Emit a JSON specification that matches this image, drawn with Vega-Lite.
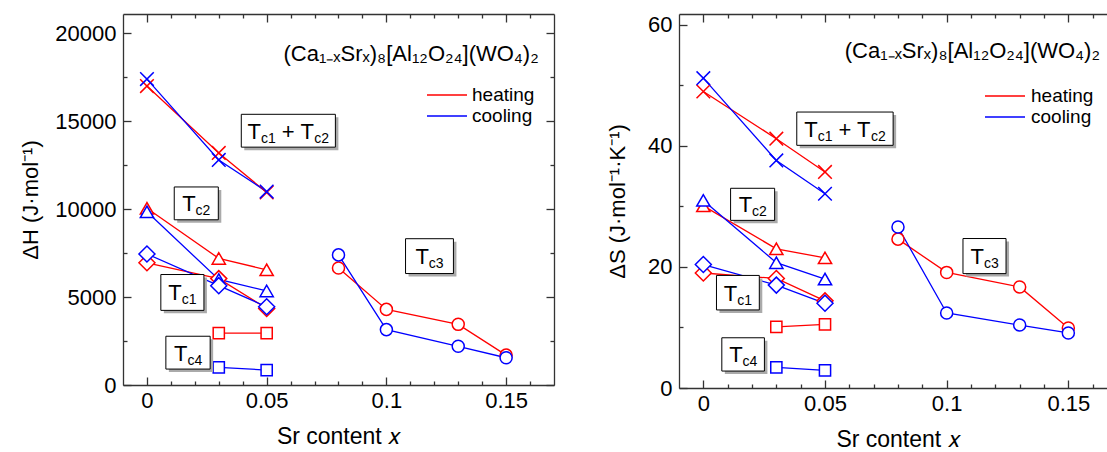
{
  "$schema": "https://vega.github.io/schema/vega-lite/v6.json",
  "background": "white",
  "padding": {"left": 19, "top": 13, "right": 0, "bottom": 0},
  "config": {
    "font": "Liberation Sans",
    "view": {"stroke": null},
    "axis": {
      "labelFont": "Liberation Sans", "titleFont": "Liberation Sans",
      "labelFontSize": 22, "titleFontSize": 22, "titleFontWeight": "normal",
      "labelColor": "black", "titleColor": "black",
      "domainColor": "#333333", "domainWidth": 1.3, "tickColor": "#333333", "tickWidth": 1.3,
      "grid": false, "labelFlush": false, "labelOverlap": false
    },
    "legend": {"labelFont": "Liberation Sans", "labelFontSize": 19, "labelColor": "black"},
    "text": {"font": "Liberation Sans", "color": "black"}
  },
  "datasets": {
    "ptsH": [
      {"mode": "heating", "trans": "Tc1+Tc2", "x": 0, "v": 17000},
      {"mode": "heating", "trans": "Tc1+Tc2", "x": 0.03, "v": 13200},
      {"mode": "heating", "trans": "Tc1+Tc2", "x": 0.05, "v": 10950},
      {"mode": "heating", "trans": "Tc2", "x": 0, "v": 10050},
      {"mode": "heating", "trans": "Tc2", "x": 0.03, "v": 7200},
      {"mode": "heating", "trans": "Tc2", "x": 0.05, "v": 6550},
      {"mode": "heating", "trans": "Tc1", "x": 0, "v": 6950},
      {"mode": "heating", "trans": "Tc1", "x": 0.03, "v": 6050},
      {"mode": "heating", "trans": "Tc1", "x": 0.05, "v": 4350},
      {"mode": "heating", "trans": "Tc4", "x": 0.03, "v": 2950},
      {"mode": "heating", "trans": "Tc4", "x": 0.05, "v": 2950},
      {"mode": "heating", "trans": "Tc3", "x": 0.08, "v": 6650},
      {"mode": "heating", "trans": "Tc3", "x": 0.1, "v": 4300},
      {"mode": "heating", "trans": "Tc3", "x": 0.13, "v": 3450},
      {"mode": "heating", "trans": "Tc3", "x": 0.15, "v": 1700},
      {"mode": "cooling", "trans": "Tc1+Tc2", "x": 0, "v": 17400},
      {"mode": "cooling", "trans": "Tc1+Tc2", "x": 0.03, "v": 12800},
      {"mode": "cooling", "trans": "Tc1+Tc2", "x": 0.05, "v": 11000},
      {"mode": "cooling", "trans": "Tc2", "x": 0, "v": 9850},
      {"mode": "cooling", "trans": "Tc2", "x": 0.03, "v": 6000},
      {"mode": "cooling", "trans": "Tc2", "x": 0.05, "v": 5350},
      {"mode": "cooling", "trans": "Tc1", "x": 0, "v": 7450},
      {"mode": "cooling", "trans": "Tc1", "x": 0.03, "v": 5650},
      {"mode": "cooling", "trans": "Tc1", "x": 0.05, "v": 4450},
      {"mode": "cooling", "trans": "Tc4", "x": 0.03, "v": 1000},
      {"mode": "cooling", "trans": "Tc4", "x": 0.05, "v": 850},
      {"mode": "cooling", "trans": "Tc3", "x": 0.08, "v": 7400},
      {"mode": "cooling", "trans": "Tc3", "x": 0.1, "v": 3150},
      {"mode": "cooling", "trans": "Tc3", "x": 0.13, "v": 2200},
      {"mode": "cooling", "trans": "Tc3", "x": 0.15, "v": 1550}
    ],
    "ptsS": [
      {"mode": "heating", "trans": "Tc1+Tc2", "x": 0, "v": 49.0},
      {"mode": "heating", "trans": "Tc1+Tc2", "x": 0.03, "v": 41.2},
      {"mode": "heating", "trans": "Tc1+Tc2", "x": 0.05, "v": 35.7},
      {"mode": "heating", "trans": "Tc2", "x": 0, "v": 30.1},
      {"mode": "heating", "trans": "Tc2", "x": 0.03, "v": 23.0},
      {"mode": "heating", "trans": "Tc2", "x": 0.05, "v": 21.5},
      {"mode": "heating", "trans": "Tc1", "x": 0, "v": 19.0},
      {"mode": "heating", "trans": "Tc1", "x": 0.03, "v": 18.1},
      {"mode": "heating", "trans": "Tc1", "x": 0.05, "v": 14.4},
      {"mode": "heating", "trans": "Tc4", "x": 0.03, "v": 10.1},
      {"mode": "heating", "trans": "Tc4", "x": 0.05, "v": 10.5},
      {"mode": "heating", "trans": "Tc3", "x": 0.08, "v": 24.6},
      {"mode": "heating", "trans": "Tc3", "x": 0.1, "v": 19.1},
      {"mode": "heating", "trans": "Tc3", "x": 0.13, "v": 16.7},
      {"mode": "heating", "trans": "Tc3", "x": 0.15, "v": 9.9},
      {"mode": "cooling", "trans": "Tc1+Tc2", "x": 0, "v": 51.2},
      {"mode": "cooling", "trans": "Tc1+Tc2", "x": 0.03, "v": 37.6},
      {"mode": "cooling", "trans": "Tc1+Tc2", "x": 0.05, "v": 32.1},
      {"mode": "cooling", "trans": "Tc2", "x": 0, "v": 31.0},
      {"mode": "cooling", "trans": "Tc2", "x": 0.03, "v": 20.7},
      {"mode": "cooling", "trans": "Tc2", "x": 0.05, "v": 18.0},
      {"mode": "cooling", "trans": "Tc1", "x": 0, "v": 20.4},
      {"mode": "cooling", "trans": "Tc1", "x": 0.03, "v": 17.0},
      {"mode": "cooling", "trans": "Tc1", "x": 0.05, "v": 14.0},
      {"mode": "cooling", "trans": "Tc4", "x": 0.03, "v": 3.4},
      {"mode": "cooling", "trans": "Tc4", "x": 0.05, "v": 2.9},
      {"mode": "cooling", "trans": "Tc3", "x": 0.08, "v": 26.6},
      {"mode": "cooling", "trans": "Tc3", "x": 0.1, "v": 12.4},
      {"mode": "cooling", "trans": "Tc3", "x": 0.13, "v": 10.4},
      {"mode": "cooling", "trans": "Tc3", "x": 0.15, "v": 9.1}
    ],
    "boxH": [
      {"name": "Tc1+Tc2", "x1": 0.0394, "x2": 0.0787, "y1": 13527, "y2": 15395, "xc": 0.0590, "yc": 14461, "t1": "T", "s1": "c1", "t2": "+ T", "s2": "c2"},
      {"name": "Tc2", "x1": 0.0114, "x2": 0.0298, "y1": 9396, "y2": 11263, "xc": 0.0206, "yc": 10330, "t1": "T", "s1": "c2"},
      {"name": "Tc1", "x1": 0.0058, "x2": 0.0238, "y1": 4245, "y2": 6283, "xc": 0.0148, "yc": 5264, "t1": "T", "s1": "c1"},
      {"name": "Tc4", "x1": 0.0079, "x2": 0.0264, "y1": 906, "y2": 2773, "xc": 0.0172, "yc": 1840, "t1": "T", "s1": "c4"},
      {"name": "Tc3", "x1": 0.108, "x2": 0.128, "y1": 6339, "y2": 8320, "xc": 0.118, "yc": 7330, "t1": "T", "s1": "c3"}
    ],
    "boxS": [
      {"name": "Tc1+Tc2", "x1": 0.0384, "x2": 0.0780, "y1": 40.1, "y2": 45.6, "xc": 0.0582, "yc": 42.85, "t1": "T", "s1": "c1", "t2": "+ T", "s2": "c2"},
      {"name": "Tc2", "x1": 0.0112, "x2": 0.0293, "y1": 27.7, "y2": 33.0, "xc": 0.0203, "yc": 30.35, "t1": "T", "s1": "c2"},
      {"name": "Tc1", "x1": 0.0054, "x2": 0.0230, "y1": 12.9, "y2": 18.6, "xc": 0.0142, "yc": 15.75, "t1": "T", "s1": "c1"},
      {"name": "Tc4", "x1": 0.0076, "x2": 0.0251, "y1": 2.8, "y2": 8.3, "xc": 0.0164, "yc": 5.55, "t1": "T", "s1": "c4"},
      {"name": "Tc3", "x1": 0.1067, "x2": 0.1244, "y1": 18.9, "y2": 24.7, "xc": 0.1156, "yc": 21.8, "t1": "T", "s1": "c3"}
    ],
    "noteH": [{"text": "(Ca₁₋ₓSrₓ)₈[Al₁₂O₂₄](WO₄)₂", "x": 0.1636, "y": 18452}],
    "noteS": [{"text": "(Ca₁₋ₓSrₓ)₈[Al₁₂O₂₄](WO₄)₂", "x": 0.163, "y": 54.5}]
  },
  "bounds": "flush",
  "spacing": 125,
  "resolve": {"legend": {"stroke": "independent"}},
  "hconcat": [
    {
      "width": 431, "height": 371,
      "resolve": {"axis": {"x": "independent", "y": "independent"}},
      "layer": [
        {
          "data": {"name": "ptsH"},
          "mark": {"type": "line", "strokeWidth": 1.3},
          "encoding": {
            "x": {"field": "x", "type": "quantitative", "scale": {"domain": [-0.01, 0.17], "nice": false, "zero": false},
              "axis": {"orient": "bottom", "values": [0, 0.01, 0.02, 0.03, 0.04, 0.05, 0.06, 0.07, 0.08, 0.09, 0.1, 0.11, 0.12, 0.13, 0.14, 0.15, 0.16],
                "format": "~g", "labelExpr": "round(datum.value*100) % 5 == 0 ? datum.label : ''",
                "tickSize": {"condition": {"test": "round(datum.value*100) % 5 == 0", "value": -8}, "value": -4},
                "labelPadding": 13, "title": "Sr content 𝑥", "titleFontSize": 23, "titlePadding": 10}},
            "y": {"field": "v", "type": "quantitative", "scale": {"domain": [0, 21100], "nice": false, "zero": false},
              "axis": {"orient": "left", "values": [0, 2500, 5000, 7500, 10000, 12500, 15000, 17500, 20000],
                "format": "d", "labelExpr": "datum.value % 5000 == 0 ? datum.label : ''",
                "tickSize": {"condition": {"test": "datum.value % 5000 == 0", "value": -8}, "value": -4},
                "labelPadding": 15, "title": "ΔH (J·mol⁻¹)", "titlePadding": 12}},
            "stroke": {"field": "mode", "type": "nominal", "scale": {"domain": ["heating", "cooling"], "range": ["#ff0000", "#0000ff"]},
              "legend": {"orient": "none", "legendX": 313, "legendY": 70, "direction": "vertical", "title": null,
                "symbolType": "M-2,0L2,0", "symbolSize": 400, "symbolStrokeWidth": 1.3, "symbolFillColor": "transparent",
                "labelOffset": 14, "padding": 0, "rowPadding": 0}},
            "detail": {"field": "trans"}
          }
        },
        {
          "data": {"name": "ptsH"},
          "mark": {"type": "point", "filled": true, "fill": "white", "strokeWidth": 1.5, "opacity": 1},
          "encoding": {
            "x": {"field": "x", "type": "quantitative",
              "axis": {"orient": "top", "values": [0, 0.01, 0.02, 0.03, 0.04, 0.05, 0.06, 0.07, 0.08, 0.09, 0.1, 0.11, 0.12, 0.13, 0.14, 0.15, 0.16],
                "labels": false, "title": null,
                "tickSize": {"condition": {"test": "round(datum.value*100) % 5 == 0", "value": -8}, "value": -4}}},
            "y": {"field": "v", "type": "quantitative",
              "axis": {"orient": "right", "values": [0, 2500, 5000, 7500, 10000, 12500, 15000, 17500, 20000],
                "labels": false, "title": null,
                "tickSize": {"condition": {"test": "datum.value % 5000 == 0", "value": -8}, "value": -4}}},
            "stroke": {"field": "mode", "type": "nominal", "legend": null},
            "shape": {"field": "trans", "type": "nominal", "legend": null,
              "scale": {"domain": ["Tc1+Tc2", "Tc2", "Tc1", "Tc4", "Tc3"], "range": ["M-1,-1L1,1M-1,1L1,-1", "triangle-up", "diamond", "square", "circle"]}},
            "size": {"field": "trans", "type": "nominal", "legend": null,
              "scale": {"type": "ordinal", "domain": ["Tc1+Tc2", "Tc2", "Tc1", "Tc4", "Tc3"], "range": [185, 175, 256, 125, 145]}}
          }
        },
        {
          "data": {"name": "boxH"},
          "mark": {"type": "rect", "fill": "#aaaaaa", "xOffset": 3, "x2Offset": 3, "yOffset": 3, "y2Offset": 3},
          "encoding": {"x": {"field": "x1", "type": "quantitative", "axis": null}, "x2": {"field": "x2"},
            "y": {"field": "y1", "type": "quantitative", "axis": null}, "y2": {"field": "y2"}}
        },
        {
          "data": {"name": "boxH"},
          "mark": {"type": "rect", "fill": "white", "stroke": "black", "strokeWidth": 1},
          "encoding": {"x": {"field": "x1", "type": "quantitative", "axis": null}, "x2": {"field": "x2"},
            "y": {"field": "y1", "type": "quantitative", "axis": null}, "y2": {"field": "y2"}}
        },
        {
          "data": {"name": "boxH"}, "transform": [{"filter": "!datum.t2"}],
          "mark": {"type": "text", "align": "left", "baseline": "alphabetic", "dx": -14.1, "dy": 8, "fontSize": 22},
          "encoding": {"x": {"field": "xc", "type": "quantitative", "axis": null}, "y": {"field": "yc", "type": "quantitative", "axis": null}, "text": {"field": "t1"}}
        },
        {
          "data": {"name": "boxH"}, "transform": [{"filter": "!datum.t2"}],
          "mark": {"type": "text", "align": "left", "baseline": "alphabetic", "dx": -0.7, "dy": 12, "fontSize": 14},
          "encoding": {"x": {"field": "xc", "type": "quantitative", "axis": null}, "y": {"field": "yc", "type": "quantitative", "axis": null}, "text": {"field": "s1"}}
        },
        {
          "data": {"name": "boxH"}, "transform": [{"filter": "datum.t2"}],
          "mark": {"type": "text", "align": "left", "baseline": "alphabetic", "dx": -40.7, "dy": 8, "fontSize": 22},
          "encoding": {"x": {"field": "xc", "type": "quantitative", "axis": null}, "y": {"field": "yc", "type": "quantitative", "axis": null}, "text": {"field": "t1"}}
        },
        {
          "data": {"name": "boxH"}, "transform": [{"filter": "datum.t2"}],
          "mark": {"type": "text", "align": "left", "baseline": "alphabetic", "dx": -27.3, "dy": 12, "fontSize": 14},
          "encoding": {"x": {"field": "xc", "type": "quantitative", "axis": null}, "y": {"field": "yc", "type": "quantitative", "axis": null}, "text": {"field": "s1"}}
        },
        {
          "data": {"name": "boxH"}, "transform": [{"filter": "datum.t2"}],
          "mark": {"type": "text", "align": "left", "baseline": "alphabetic", "dx": -6.4, "dy": 8, "fontSize": 22},
          "encoding": {"x": {"field": "xc", "type": "quantitative", "axis": null}, "y": {"field": "yc", "type": "quantitative", "axis": null}, "text": {"field": "t2"}}
        },
        {
          "data": {"name": "boxH"}, "transform": [{"filter": "datum.t2"}],
          "mark": {"type": "text", "align": "left", "baseline": "alphabetic", "dx": 26, "dy": 12, "fontSize": 14},
          "encoding": {"x": {"field": "xc", "type": "quantitative", "axis": null}, "y": {"field": "yc", "type": "quantitative", "axis": null}, "text": {"field": "s2"}}
        },
        {
          "data": {"name": "noteH"},
          "mark": {"type": "text", "align": "right", "baseline": "alphabetic", "fontSize": 22},
          "encoding": {"x": {"field": "x", "type": "quantitative", "axis": null}, "y": {"field": "y", "type": "quantitative", "axis": null}, "text": {"field": "text"}}
        }
      ]
    },
    {
      "width": 438, "height": 374,
      "resolve": {"axis": {"x": "independent", "y": "independent"}},
      "layer": [
        {
          "data": {"name": "ptsS"},
          "mark": {"type": "line", "strokeWidth": 1.3},
          "encoding": {
            "x": {"field": "x", "type": "quantitative", "scale": {"domain": [-0.01, 0.17], "nice": false, "zero": false},
              "axis": {"orient": "bottom", "values": [0, 0.01, 0.02, 0.03, 0.04, 0.05, 0.06, 0.07, 0.08, 0.09, 0.1, 0.11, 0.12, 0.13, 0.14, 0.15, 0.16],
                "format": "~g", "labelExpr": "round(datum.value*100) % 5 == 0 ? datum.label : ''",
                "tickSize": {"condition": {"test": "round(datum.value*100) % 5 == 0", "value": -8}, "value": -4},
                "labelPadding": 13, "title": "Sr content 𝑥", "titleFontSize": 23, "titlePadding": 10}},
            "y": {"field": "v", "type": "quantitative", "scale": {"domain": [0, 61.8], "nice": false, "zero": false},
              "axis": {"orient": "left", "values": [0, 10, 20, 30, 40, 50, 60],
                "format": "d", "labelExpr": "datum.value % 20 == 0 ? datum.label : ''",
                "tickSize": {"condition": {"test": "datum.value % 20 == 0", "value": -8}, "value": -4},
                "labelPadding": 15, "title": "ΔS (J·mol⁻¹·K⁻¹)", "titlePadding": 18}},
            "stroke": {"field": "mode", "type": "nominal", "scale": {"domain": ["heating", "cooling"], "range": ["#ff0000", "#0000ff"]},
              "legend": {"orient": "none", "legendX": 315, "legendY": 71, "direction": "vertical", "title": null,
                "symbolType": "M-2,0L2,0", "symbolSize": 400, "symbolStrokeWidth": 1.3, "symbolFillColor": "transparent",
                "labelOffset": 15, "padding": 0, "rowPadding": 0}},
            "detail": {"field": "trans"}
          }
        },
        {
          "data": {"name": "ptsS"},
          "mark": {"type": "point", "filled": true, "fill": "white", "strokeWidth": 1.5, "opacity": 1},
          "encoding": {
            "x": {"field": "x", "type": "quantitative",
              "axis": {"orient": "top", "values": [0, 0.01, 0.02, 0.03, 0.04, 0.05, 0.06, 0.07, 0.08, 0.09, 0.1, 0.11, 0.12, 0.13, 0.14, 0.15, 0.16],
                "labels": false, "title": null,
                "tickSize": {"condition": {"test": "round(datum.value*100) % 5 == 0", "value": -8}, "value": -4}}},
            "y": {"field": "v", "type": "quantitative",
              "axis": {"orient": "right", "values": [0, 10, 20, 30, 40, 50, 60],
                "labels": false, "title": null,
                "tickSize": {"condition": {"test": "datum.value % 20 == 0", "value": -8}, "value": -4}}},
            "stroke": {"field": "mode", "type": "nominal", "legend": null},
            "shape": {"field": "trans", "type": "nominal", "legend": null,
              "scale": {"domain": ["Tc1+Tc2", "Tc2", "Tc1", "Tc4", "Tc3"], "range": ["M-1,-1L1,1M-1,1L1,-1", "triangle-up", "diamond", "square", "circle"]}},
            "size": {"field": "trans", "type": "nominal", "legend": null,
              "scale": {"type": "ordinal", "domain": ["Tc1+Tc2", "Tc2", "Tc1", "Tc4", "Tc3"], "range": [185, 175, 256, 125, 145]}}
          }
        },
        {
          "data": {"name": "boxS"},
          "mark": {"type": "rect", "fill": "#aaaaaa", "xOffset": 3, "x2Offset": 3, "yOffset": 3, "y2Offset": 3},
          "encoding": {"x": {"field": "x1", "type": "quantitative", "axis": null}, "x2": {"field": "x2"},
            "y": {"field": "y1", "type": "quantitative", "axis": null}, "y2": {"field": "y2"}}
        },
        {
          "data": {"name": "boxS"},
          "mark": {"type": "rect", "fill": "white", "stroke": "black", "strokeWidth": 1},
          "encoding": {"x": {"field": "x1", "type": "quantitative", "axis": null}, "x2": {"field": "x2"},
            "y": {"field": "y1", "type": "quantitative", "axis": null}, "y2": {"field": "y2"}}
        },
        {
          "data": {"name": "boxS"}, "transform": [{"filter": "!datum.t2"}],
          "mark": {"type": "text", "align": "left", "baseline": "alphabetic", "dx": -14.1, "dy": 8, "fontSize": 22},
          "encoding": {"x": {"field": "xc", "type": "quantitative", "axis": null}, "y": {"field": "yc", "type": "quantitative", "axis": null}, "text": {"field": "t1"}}
        },
        {
          "data": {"name": "boxS"}, "transform": [{"filter": "!datum.t2"}],
          "mark": {"type": "text", "align": "left", "baseline": "alphabetic", "dx": -0.7, "dy": 12, "fontSize": 14},
          "encoding": {"x": {"field": "xc", "type": "quantitative", "axis": null}, "y": {"field": "yc", "type": "quantitative", "axis": null}, "text": {"field": "s1"}}
        },
        {
          "data": {"name": "boxS"}, "transform": [{"filter": "datum.t2"}],
          "mark": {"type": "text", "align": "left", "baseline": "alphabetic", "dx": -40.7, "dy": 8, "fontSize": 22},
          "encoding": {"x": {"field": "xc", "type": "quantitative", "axis": null}, "y": {"field": "yc", "type": "quantitative", "axis": null}, "text": {"field": "t1"}}
        },
        {
          "data": {"name": "boxS"}, "transform": [{"filter": "datum.t2"}],
          "mark": {"type": "text", "align": "left", "baseline": "alphabetic", "dx": -27.3, "dy": 12, "fontSize": 14},
          "encoding": {"x": {"field": "xc", "type": "quantitative", "axis": null}, "y": {"field": "yc", "type": "quantitative", "axis": null}, "text": {"field": "s1"}}
        },
        {
          "data": {"name": "boxS"}, "transform": [{"filter": "datum.t2"}],
          "mark": {"type": "text", "align": "left", "baseline": "alphabetic", "dx": -6.4, "dy": 8, "fontSize": 22},
          "encoding": {"x": {"field": "xc", "type": "quantitative", "axis": null}, "y": {"field": "yc", "type": "quantitative", "axis": null}, "text": {"field": "t2"}}
        },
        {
          "data": {"name": "boxS"}, "transform": [{"filter": "datum.t2"}],
          "mark": {"type": "text", "align": "left", "baseline": "alphabetic", "dx": 26, "dy": 12, "fontSize": 14},
          "encoding": {"x": {"field": "xc", "type": "quantitative", "axis": null}, "y": {"field": "yc", "type": "quantitative", "axis": null}, "text": {"field": "s2"}}
        },
        {
          "data": {"name": "noteS"},
          "mark": {"type": "text", "align": "right", "baseline": "alphabetic", "fontSize": 22},
          "encoding": {"x": {"field": "x", "type": "quantitative", "axis": null}, "y": {"field": "y", "type": "quantitative", "axis": null}, "text": {"field": "text"}}
        }
      ]
    }
  ]
}
